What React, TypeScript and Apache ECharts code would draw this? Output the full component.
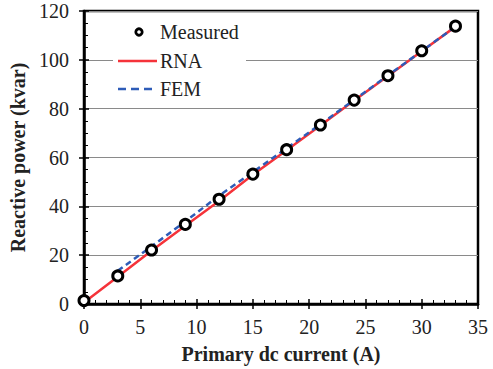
import React, { useEffect, useRef } from "react";
import * as echarts from "echarts";

const currents = [0, 3, 6, 9, 12, 15, 18, 21, 24, 27, 30, 33];
const measured = [1.4, 11.5, 22.1, 32.6, 42.9, 53.2, 63.2, 73.3, 83.5, 93.5, 103.7, 113.8];
const rna = [0.6, 11.2, 21.8, 32.0, 42.2, 52.9, 63.0, 73.1, 83.3, 93.4, 103.5, 113.6];
const femCurrents = [3, 6, 9, 12, 15, 18, 21, 24, 27, 30, 33];
const fem = [13.6, 23.6, 33.8, 44.4, 54.0, 63.8, 73.6, 83.6, 93.6, 103.6, 113.6];
const legendNames = ["Measured", "RNA", "FEM"];

const FONT = "Liberation Serif";
const RED = "#f5333a";
const BLUE = "#2e5cb8";

export default function App() {
  const ref = useRef<HTMLDivElement>(null);
  useEffect(() => {
    if (!ref.current) return;
    const chart = echarts.init(ref.current, null, { renderer: "svg" });
    const tickLabel = { fontFamily: FONT, fontSize: 20, color: "#222" };
    const nameStyle = { fontFamily: FONT, fontSize: 20, fontWeight: "bold", color: "#222" };
    const legendText = (t: string, y: number) => ({
      type: "text", x: 160, y,
      style: { text: t, fontFamily: FONT, fontSize: 20, fill: "#222", verticalAlign: "middle", align: "left" },
      z: 51,
    });
    chart.setOption({
      animation: false,
      backgroundColor: "#fff",
      textStyle: { fontFamily: FONT },
      grid: { left: 84, top: 11, right: 15, bottom: 65, show: true, borderColor: "#000", borderWidth: 2.5, backgroundColor: "transparent" },
      graphic: [
        { type: "rect", shape: { x: 113, y: 16, width: 133, height: 86 }, style: { fill: "#fff" }, z: 50 },
        { type: "circle", shape: { cx: 139, cy: 32, r: 3.2 }, style: { fill: "#fff", stroke: "#000", lineWidth: 2.8 }, z: 51 },
        { type: "line", shape: { x1: 118, y1: 61, x2: 157, y2: 61 }, style: { stroke: RED, lineWidth: 2.5 }, z: 51 },
        { type: "line", shape: { x1: 118, y1: 89, x2: 152, y2: 89 }, style: { stroke: BLUE, lineWidth: 2.5, lineDash: [8, 5] }, z: 51 },
        legendText(legendNames[0], 32),
        legendText(legendNames[1], 61),
        legendText(legendNames[2], 89),
      ],
      xAxis: [
        {
          type: "value", min: 0, max: 35, interval: 5,
          axisLine: { show: true, lineStyle: { color: "#000", width: 2.5 } },
          axisTick: { show: true, inside: false, length: 5, lineStyle: { color: "#000", width: 1.5 } },
          axisLabel: { ...tickLabel, margin: 13 },
          splitLine: { show: false },
          name: "Primary dc current (A)",
          nameLocation: "middle",
          nameGap: 40,
          nameTextStyle: nameStyle,
        },
        {
          type: "value", min: 0, max: 35, interval: 5, position: "bottom",
          axisLine: { show: false },
          axisTick: { show: true, inside: true, length: 5, lineStyle: { color: "#000", width: 1.5 } },
          minorTick: { show: true, splitNumber: 5, length: 4, lineStyle: { color: "#000", width: 1 } },
          axisLabel: { show: false },
          splitLine: { show: false },
        },
      ],
      yAxis: [
        {
          type: "value", min: 0, max: 120, interval: 20,
          axisLine: { show: true, lineStyle: { color: "#000", width: 2.5 } },
          axisTick: { show: true, inside: false, length: 5, lineStyle: { color: "#000", width: 1.5 } },
          axisLabel: { ...tickLabel, margin: 15 },
          splitLine: { show: true, lineStyle: { color: "#8a8a8a", width: 1 } },
          name: "Reactive power (kvar)",
          nameLocation: "middle",
          nameGap: 52,
          nameTextStyle: nameStyle,
        },
        {
          type: "value", min: 0, max: 120, interval: 20, position: "left",
          axisLine: { show: false },
          axisTick: { show: true, inside: true, length: 5, lineStyle: { color: "#000", width: 1.5 } },
          minorTick: { show: true, splitNumber: 4, length: 4, lineStyle: { color: "#000", width: 1 } },
          axisLabel: { show: false },
          splitLine: { show: false },
        },
      ],
      series: [
        {
          name: "RNA",
          type: "line",
          data: currents.map((c, i) => [c, rna[i]]),
          symbol: "none",
          lineStyle: { color: RED, width: 2.5 },
          itemStyle: { color: RED },
          z: 3,
        },
        {
          name: "FEM",
          type: "line",
          data: femCurrents.map((c, i) => [c, fem[i]]),
          symbol: "none",
          lineStyle: { color: BLUE, width: 2.5, type: [6, 4] },
          itemStyle: { color: BLUE },
          z: 4,
        },
        {
          name: "Measured",
          type: "scatter",
          data: currents.map((c, i) => [c, measured[i]]),
          symbol: "circle",
          symbolSize: 10,
          itemStyle: { color: "#fff", borderColor: "#000", borderWidth: 3, opacity: 1 },
          z: 5,
        },
      ],
    });
    return () => chart.dispose();
  }, []);
  return <div ref={ref} style={{ width: 493, height: 369, position: "absolute", left: 0, top: 0 }} />;
}
